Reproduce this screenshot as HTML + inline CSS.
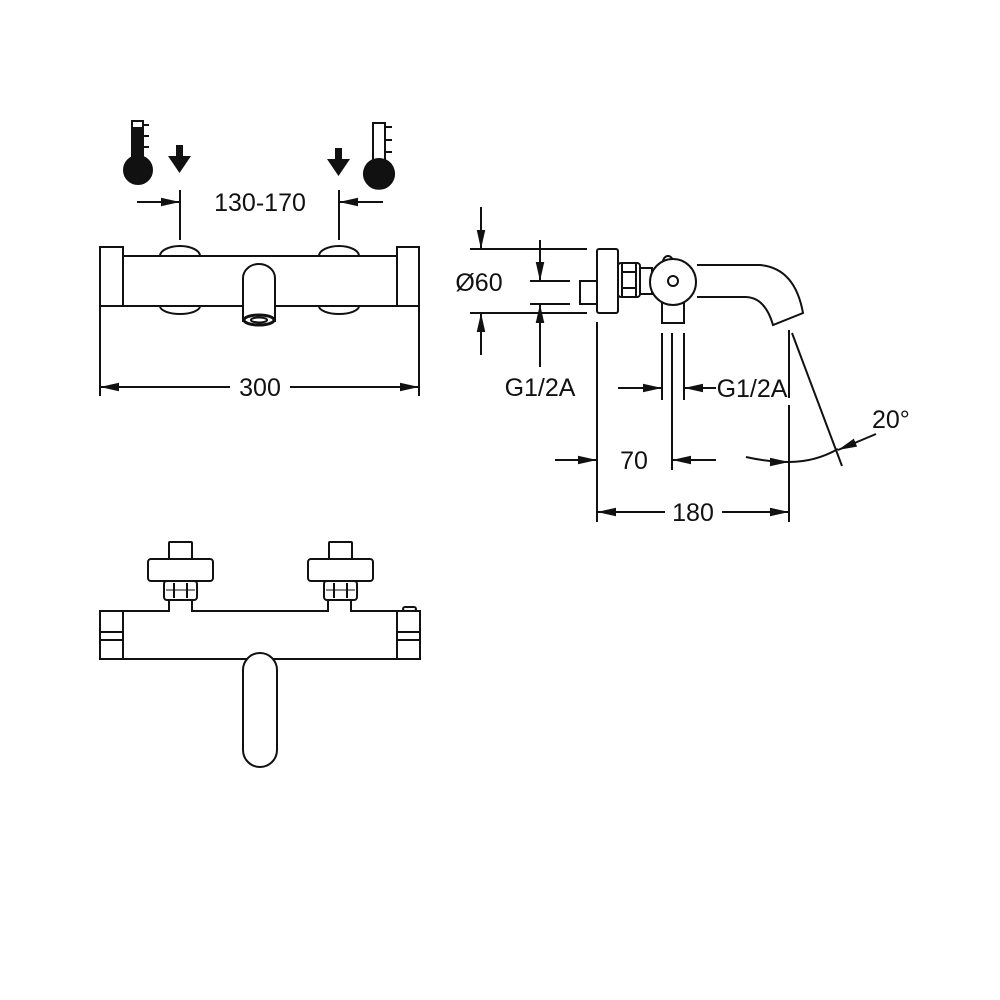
<!DOCTYPE html>
<html><head><meta charset="utf-8"><style>
html,body{margin:0;padding:0;background:#fff}
svg{display:block}
text{font-family:"Liberation Sans",sans-serif;fill:#111}
</style></head><body>
<svg width="1000" height="1000" viewBox="0 0 1000 1000" xmlns="http://www.w3.org/2000/svg">
<defs>
<marker id="a" viewBox="0 0 20 10" refX="20" refY="5" markerWidth="19" markerHeight="9.5" markerUnits="userSpaceOnUse" orient="auto"><path d="M0,0.5 L20,5 L0,9.5 z" fill="#111"/></marker>
</defs>
<g stroke="#111" stroke-width="2" fill="none">
<rect x="132" y="121" width="11" height="40" fill="#111"/>
<rect x="133" y="122" width="9" height="5" fill="#fff" stroke="none"/>
<circle cx="138" cy="170" r="14" fill="#111"/>
<line x1="143" y1="125" x2="149" y2="125"/><line x1="143" y1="136" x2="149" y2="136"/><line x1="143" y1="147" x2="149" y2="147"/>
<path d="M373,123 H385 V160 A15,15 0 1 1 373,160 Z" fill="#fff"/>
<circle cx="379" cy="173" r="14" fill="#111"/>
<line x1="385" y1="127" x2="392" y2="127"/><line x1="385" y1="140" x2="392" y2="140"/><line x1="385" y1="152" x2="392" y2="152"/>
<path d="M176,145 H183 V156 H191 L179.5,173 L168,156 H176 Z" fill="#111" stroke="none"/>
<path d="M335,148 H342 V159 H350 L338.5,176 L327,159 H335 Z" fill="#111" stroke="none"/>
<line x1="180" y1="190" x2="180" y2="240"/><line x1="339" y1="190" x2="339" y2="240"/>
<line x1="137" y1="202" x2="180" y2="202" marker-end="url(#a)"/>
<line x1="383" y1="202" x2="339" y2="202" marker-end="url(#a)"/>
<path d="M160,256 A20,10 0 0 1 200,256"/><path d="M160,306 A20,8 0 0 0 200,306"/>
<path d="M319,256 A20,10 0 0 1 359,256"/><path d="M319,306 A20,8 0 0 0 359,306"/>
<rect x="123" y="256" width="274" height="50"/>
<rect x="100" y="247" width="23" height="59"/>
<rect x="397" y="247" width="22" height="59"/>
<path d="M243,322 V278 A16,14 0 0 1 275,278 V322" fill="#fff"/>
<ellipse cx="259" cy="320" rx="15" ry="5" fill="#fff" stroke-width="3"/>
<ellipse cx="259" cy="320" rx="8" ry="2.5"/>
<line x1="100" y1="306" x2="100" y2="396"/><line x1="419" y1="306" x2="419" y2="396"/>
<line x1="230" y1="387" x2="100" y2="387" marker-end="url(#a)"/>
<line x1="290" y1="387" x2="419" y2="387" marker-end="url(#a)"/>
<line x1="470" y1="249" x2="587" y2="249"/><line x1="470" y1="313" x2="587" y2="313"/>
<line x1="481" y1="207" x2="481" y2="249" marker-end="url(#a)"/>
<line x1="481" y1="355" x2="481" y2="313" marker-end="url(#a)"/>
<line x1="530" y1="281" x2="570" y2="281"/><line x1="530" y1="304" x2="570" y2="304"/>
<line x1="540" y1="240" x2="540" y2="281" marker-end="url(#a)"/>
<line x1="540" y1="367" x2="540" y2="304" marker-end="url(#a)"/>
<rect x="580" y="281" width="17" height="23"/>
<rect x="597" y="249" width="21" height="64" rx="2" fill="#fff"/>
<rect x="618" y="263" width="22" height="34" rx="3" fill="#fff"/>
<line x1="622" y1="272" x2="636" y2="272"/><line x1="622" y1="288" x2="636" y2="288"/>
<line x1="622" y1="263" x2="622" y2="297"/><line x1="636" y1="263" x2="636" y2="297"/>
<rect x="640" y="268" width="12" height="26"/>
<path d="M697,265 H760 Q795,268 803,313 L773,325 Q765,297 745,297 H697"/>
<rect x="662" y="303" width="22" height="20" fill="#fff"/>
<path d="M663,262 A5,6 0 0 1 673,262" fill="#fff"/>
<circle cx="673" cy="282" r="23" fill="#fff"/>
<circle cx="673" cy="281" r="5"/>
<line x1="597" y1="322" x2="597" y2="522"/>
<line x1="662" y1="333" x2="662" y2="400"/><line x1="672" y1="333" x2="672" y2="470"/><line x1="684" y1="333" x2="684" y2="400"/>
<line x1="789" y1="330" x2="789" y2="398"/><line x1="789" y1="405" x2="789" y2="522"/>
<line x1="792" y1="333" x2="842" y2="466"/>
<line x1="618" y1="388" x2="662" y2="388" marker-end="url(#a)"/>
<line x1="716" y1="388" x2="684" y2="388" marker-end="url(#a)"/>
<line x1="555" y1="460" x2="597" y2="460" marker-end="url(#a)"/>
<line x1="716" y1="460" x2="672" y2="460" marker-end="url(#a)"/>
<line x1="665" y1="512" x2="597" y2="512" marker-end="url(#a)"/>
<line x1="722" y1="512" x2="789" y2="512" marker-end="url(#a)"/>
<path d="M746,457 Q768,462 789,462" marker-end="url(#a)"/>
<path d="M789,462 Q815,462 838,449"/>
<line x1="876" y1="434" x2="838" y2="450" marker-end="url(#a)"/>
<path d="M123,611 H169 V600 H192 V611 H328 V600 H351 V611 H397"/>
<line x1="123" y1="659" x2="397" y2="659"/>
<rect x="100" y="611" width="23" height="48"/>
<line x1="100" y1="632" x2="123" y2="632"/><line x1="100" y1="640" x2="123" y2="640"/>
<rect x="397" y="611" width="23" height="48"/>
<line x1="397" y1="632" x2="420" y2="632"/><line x1="397" y1="640" x2="420" y2="640"/>
<rect x="403" y="607" width="13" height="4" rx="2"/>
<g>
<rect x="169" y="542" width="23" height="17" rx="1"/>
<rect x="148" y="559" width="65" height="22" rx="3"/>
<rect x="164" y="581" width="33" height="19" rx="3"/>
<line x1="174" y1="583" x2="174" y2="598"/><line x1="187" y1="583" x2="187" y2="598"/>
<line x1="166" y1="590" x2="195" y2="590" stroke-width="1"/>
</g>
<g transform="translate(160,0)">
<rect x="169" y="542" width="23" height="17" rx="1"/>
<rect x="148" y="559" width="65" height="22" rx="3"/>
<rect x="164" y="581" width="33" height="19" rx="3"/>
<line x1="174" y1="583" x2="174" y2="598"/><line x1="187" y1="583" x2="187" y2="598"/>
<line x1="166" y1="590" x2="195" y2="590" stroke-width="1"/>
</g>
<path d="M243,670 A17,17 0 0 1 277,670 V750 A17,17 0 0 1 243,750 Z" fill="#fff"/>
</g>
<g font-size="25">
<text x="260" y="211" text-anchor="middle">130-170</text>
<text x="260" y="396" text-anchor="middle">300</text>
<text x="479" y="291" text-anchor="middle">Ø60</text>
<text x="540" y="396" text-anchor="middle">G1/2A</text>
<text x="752" y="397" text-anchor="middle">G1/2A</text>
<text x="634" y="469" text-anchor="middle">70</text>
<text x="693" y="521" text-anchor="middle">180</text>
<text x="872" y="428">20°</text>
</g>
</svg>
</body></html>
